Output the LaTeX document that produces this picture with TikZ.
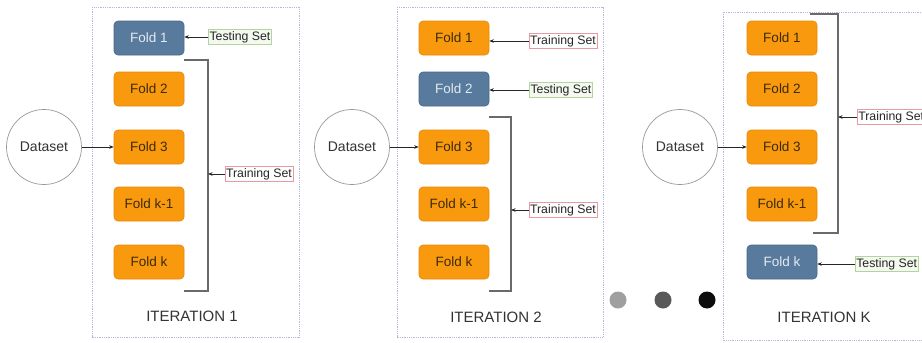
\documentclass[tikz,border=0pt]{standalone}
\usepackage{fontspec}
\setmainfont{Liberation Sans}
\usetikzlibrary{arrows.meta}
\definecolor{foldorange}{HTML}{F99A0E}
\definecolor{foldedge}{HTML}{E8870A}
\definecolor{foldtext}{HTML}{3D2A08}
\definecolor{testblue}{HTML}{587A9D}
\definecolor{testedge}{HTML}{4A6786}
\definecolor{testtext}{HTML}{E4EAF1}
\definecolor{greenedge}{HTML}{B3D49C}
\definecolor{greenfill}{HTML}{F3F9EE}
\definecolor{pinkedge}{HTML}{E79AA5}
\definecolor{frameedge}{HTML}{B4B8DE}
\definecolor{brackgray}{HTML}{6A6A6A}
\tikzset{
  fold/.style={rectangle, rounded corners=4pt, minimum width=70pt, minimum height=34pt,
    fill=foldorange, draw=foldedge, line width=0.6pt, text=foldtext,
    font=\fontsize{13.5}{15}\selectfont},
  testfold/.style={fold, fill=testblue, draw=testedge, text=testtext},
  dataset/.style={circle, draw=gray!80, line width=0.7pt, minimum size=75pt,
    text=black!80, font=\fontsize{14}{16}\selectfont},
  testlbl/.style={rectangle, draw=greenedge, fill=greenfill, line width=0.6pt,
    inner xsep=1pt, inner ysep=1.5pt, text=black!85, font=\fontsize{12.3}{13}\selectfont},
  trainlbl/.style={testlbl, draw=pinkedge, fill=white},
  iterframe/.style={draw=frameedge, densely dotted, line width=0.8pt},
  iterlbl/.style={text=black!80, font=\fontsize{15}{17}\selectfont},
  brack/.style={draw=brackgray, line width=1.5pt},
  arr/.style={-{Stealth[length=4.5pt,width=3.5pt]}, line width=0.6pt, black!85},
  dot/.style={circle, minimum size=17pt, inner sep=0pt}
}
\begin{document}
\begin{tikzpicture}[x=1pt,y=-1pt]
\clip (0,0) rectangle (922,343);
\fill[white] (0,0) rectangle (922,343);

% ---------- iteration 1 ----------
\draw[iterframe] (92,7) rectangle (299,337);
\node[testfold] (a1) at (149,38) {Fold 1};
\node[fold] (a2) at (149,89) {Fold 2};
\node[fold] (a3) at (149,147) {Fold 3};
\node[fold] (a4) at (149,204) {Fold k-1};
\node[fold] (a5) at (149,262) {Fold k};
\node[dataset] (ad) at (44,147) {Dataset};
\draw[arr] (ad) -- (a3);
\draw[brack] (184,60) -- (208,60) -- (208,291) -- (184,291);
\coordinate (ab) at (208,174);
\node[trainlbl] (atr) at (259,174) {Training Set};
\node[testlbl] (ate) at (240,37) {Testing Set};
\draw[arr] (atr.west) -- (ab);
\draw[arr] (ate.west) -- (ate.west -| a1.east);
\node[iterlbl] (ai) at (192,316) {ITERATION 1};

% ---------- iteration 2 ----------
\draw[iterframe] (397,7) rectangle (603,337);
\node[fold] (b1) at (454,38) {Fold 1};
\node[testfold] (b2) at (454,89) {Fold 2};
\node[fold] (b3) at (454,147) {Fold 3};
\node[fold] (b4) at (454,204) {Fold k-1};
\node[fold] (b5) at (454,262) {Fold k};
\node[dataset] (bd) at (352,147) {Dataset};
\draw[arr] (bd) -- (b3);
\draw[brack] (489,117) -- (511,117) -- (511,291) -- (489,291);
\coordinate (bb) at (511,210);
\node[trainlbl] (btr1) at (563,41) {Training Set};
\node[testlbl] (bte) at (561,90) {Testing Set};
\node[trainlbl] (btr2) at (563,210) {Training Set};
\draw[arr] (btr1.west) -- (btr1.west -| b1.east);
\draw[arr] (bte.west) -- (bte.west -| b2.east);
\draw[arr] (btr2.west) -- (bb);
\node[iterlbl] (bi) at (496,317) {ITERATION 2};

% ---------- dots between iterations ----------
\node[dot, fill=gray!75] (d1) at (618,300) {};
\node[dot, fill=black!65] (d2) at (663,300) {};
\node[dot, fill=black!95] (d3) at (707,300) {};

% ---------- iteration K ----------
\draw[iterframe] (723,12) rectangle (935,340);
\node[fold] (c1) at (782,38) {Fold 1};
\node[fold] (c2) at (782,89) {Fold 2};
\node[fold] (c3) at (782,147) {Fold 3};
\node[fold] (c4) at (782,204) {Fold k-1};
\node[testfold] (c5) at (782,262) {Fold k};
\node[dataset] (cd) at (680,147) {Dataset};
\draw[arr] (cd) -- (c3);
\draw[brack] (810,14) -- (838,14) -- (838,233) -- (813,233);
\coordinate (cb) at (838,117);
\node[trainlbl, anchor=west] (ctr) at (857,117) {Training Set};
\node[testlbl, anchor=west] (cte) at (855,264) {Testing Set};
\draw[arr] (ctr.west) -- (cb);
\draw[arr] (cte.west) -- (cte.west -| c5.east);
\node[iterlbl] (ci) at (824,317) {ITERATION K};
\end{tikzpicture}
\end{document}
